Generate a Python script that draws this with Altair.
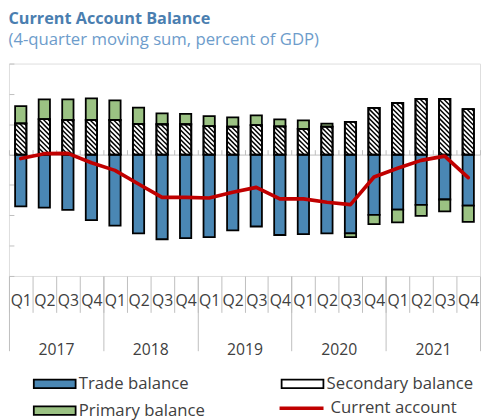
import json
import altair as alt
import pandas as pd

# ---------------- data ----------------
years = ["2017", "2018", "2019", "2020", "2021"]
quarters = ["Q1", "Q2", "Q3", "Q4"]
trade = [-1.71, -1.75, -1.82, -2.16, -2.34, -2.60, -2.79, -2.75, -2.72, -2.50,
         -2.37, -2.65, -2.62, -2.60, -2.60, -1.99, -1.81, -1.66, -1.48, -1.68]
secondary = [1.03, 1.17, 1.14, 1.14, 1.14, 1.01, 1.00, 1.00, 0.94, 0.92,
             0.97, 0.93, 0.85, 0.92, 1.08, 1.54, 1.70, 1.84, 1.84, 1.50]
primary = [0.57, 0.65, 0.68, 0.71, 0.65, 0.54, 0.36, 0.34, 0.33, 0.31,
           0.32, 0.23, 0.28, 0.10, -0.12, -0.30, -0.42, -0.36, -0.39, -0.54]
current = [-0.13, 0.03, 0.04, -0.27, -0.52, -0.97, -1.41, -1.41, -1.43, -1.24,
           -1.08, -1.46, -1.46, -1.57, -1.65, -0.74, -0.45, -0.19, -0.05, -0.76]
series_names = ["Trade balance", "Secondary balance", "Primary balance"]
line_name = "Current account"

# ---------------- style ----------------
FONT = "Open Sans"
BLUE = "#4A87B4"
GREEN = "#9BC283"
RED = "#C00000"
GRAY = "#BFBFBF"
TEXT = "#404040"
W, H = 479, 216
Y_MIN, Y_MAX = -4, 3
BAR_W = 0.48
n = len(trade)
sx = W / n
sy = H / (Y_MAX - Y_MIN)

# stacked segments
rows = []
for i in range(n):
    xl, xr = i + 0.5 - BAR_W / 2, i + 0.5 + BAR_W / 2
    t, s, p = trade[i], secondary[i], primary[i]
    rows.append(dict(series="Trade balance", x=xl, x2=xr, y=0, y2=t))
    rows.append(dict(series="Secondary balance", x=xl, x2=xr, y=0, y2=s))
    if p >= 0:
        rows.append(dict(series="Primary balance", x=xl, x2=xr, y=s, y2=s + p))
    else:
        rows.append(dict(series="Primary balance", x=xl, x2=xr, y=t, y2=t + p))
bars = pd.DataFrame(rows)
sec_df = bars[bars.series == "Secondary balance"]

# hatch segments for the secondary-balance bars
STEP = 4.8
hrows = []
for i in range(n):
    xl = i + 0.5 - BAR_W / 2
    w = BAR_W * sx
    h = secondary[i] * sy
    c = -w + STEP / 2
    while c < h:
        u0 = max(0.0, -c)
        u1 = min(w, h - c)
        if u1 > u0:
            hrows.append(dict(x=xl + u0 / sx, y=secondary[i] - (u0 + c) / sy,
                              x2=xl + u1 / sx, y2=secondary[i] - (u1 + c) / sy))
        c += STEP
hatch = pd.DataFrame(hrows)

line_df = pd.DataFrame(dict(x=[i + 0.5 for i in range(n)], y=current, name=line_name))

xs = alt.Scale(domain=[0, n], nice=False, zero=False)
ys = alt.Scale(domain=[Y_MIN, Y_MAX], nice=False, zero=False)

y_axis = alt.Axis(orient="left", offset=-5, values=list(range(Y_MIN, Y_MAX + 1)), tickSize=5,
                  tickColor=GRAY, labels=False, domain=False, grid=False, title=None, minExtent=0)

q_axis = alt.Axis(orient="bottom", values=list(range(n)), tickSize=37, tickColor=GRAY,
                  domain=False, grid=False, title=None, minExtent=0,
                  labelExpr=f"{json.dumps(quarters)}[datum.value % 4]",
                  labelOffset=sx / 2, labelPadding=-20, labelFontSize=16, labelColor=TEXT,
                  labelFont=FONT, labelFlush=False, labelOverlap=False, labelBound=False)

year_axis = alt.Axis(orient="bottom", values=list(range(0, n, 4)), tickSize=76, tickColor=GRAY,
                     domain=False, grid=False, title=None, minExtent=0,
                     labelExpr=f"{json.dumps(years)}[floor(datum.value / 4)]",
                     labelOffset=2 * sx, labelPadding=-9, labelFontSize=16, labelColor=TEXT,
                     labelFont=FONT, labelFlush=False, labelOverlap=False, labelBound=False)

end_axis = alt.Axis(orient="bottom", values=[n], tickSize=76, tickColor=GRAY, domain=False,
                    grid=False, labels=False, title=None, minExtent=0)

zero_axis = alt.Axis(orient="top", offset=-(Y_MAX * sy), values=list(range(n + 1)), tickSize=5,
                     tickColor=GRAY, domain=True, domainColor=GRAY, labels=False, grid=False,
                     title=None, minExtent=0)

fill_legend = alt.Legend(orient="none", legendX=38, legendY=317, columns=2, columnPadding=73,
                         direction="horizontal",
                         rowPadding=9.5, symbolType="M-4,-0.82H4V0.82H-4Z", symbolSize=113,
                         symbolStrokeColor="black", symbolStrokeWidth=1.8, symbolOpacity=1,
                         labelFontSize=17, labelFont=FONT, labelColor=TEXT, labelOffset=16,
                         title=None)
line_legend = alt.Legend(orient="none", legendX=273, legendY=326, symbolType="stroke",
                         symbolSize=2000, symbolStrokeWidth=3.7, labelFontSize=17, labelFont=FONT,
                         labelColor=TEXT, labelOffset=5, title=None)

bars_layer = alt.Chart(bars).mark_rect(stroke="black", strokeWidth=1.8).encode(
    x=alt.X("x:Q", scale=xs, axis=q_axis), x2="x2:Q",
    y=alt.Y("y:Q", scale=ys, axis=y_axis), y2="y2:Q",
    fill=alt.Fill("series:N", scale=alt.Scale(domain=series_names, range=[BLUE, "white", GREEN]),
                  legend=fill_legend, sort=series_names),
)

hatch_layer = alt.Chart(hatch).mark_rule(color="black", strokeWidth=1.5).encode(
    x=alt.X("x:Q", scale=xs, axis=zero_axis), x2="x2:Q",
    y=alt.Y("y:Q", scale=ys, axis=y_axis), y2="y2:Q",
)

outline_layer = alt.Chart(sec_df).mark_rect(fillOpacity=0, stroke="black", strokeWidth=1.8).encode(
    x=alt.X("x:Q", scale=xs, axis=end_axis), x2="x2:Q",
    y=alt.Y("y:Q", scale=ys, axis=y_axis), y2="y2:Q",
)

line_layer = alt.Chart(line_df).mark_line(strokeWidth=3.7, strokeJoin="round", strokeCap="round").encode(
    x=alt.X("x:Q", scale=xs, axis=year_axis),
    y=alt.Y("y:Q", scale=ys, axis=y_axis),
    stroke=alt.Stroke("name:N", scale=alt.Scale(domain=[line_name], range=[RED]), legend=line_legend),
)

chart = alt.layer(bars_layer, hatch_layer, outline_layer, line_layer).resolve_axis(
    x="independent"
).resolve_legend(fill="independent", stroke="independent").properties(
    width=W, height=H,
    padding={"left": 0, "top": 0, "right": 0, "bottom": 0},
    title=alt.Title(text="Current Account Balance",
                    subtitle="(4-quarter moving sum, percent of GDP)",
                    anchor="start", fontSize=16.5, fontWeight="bold", color="#4A7EB0",
                    font=FONT, subtitleFont=FONT, subtitleFontSize=17,
                    subtitleColor="#6D9CCB", subtitlePadding=5, offset=15),
).configure_view(stroke=GRAY, strokeWidth=1).configure(font=FONT)

chart.save("out.html", embed_options={"renderer": "svg", "actions": False})
